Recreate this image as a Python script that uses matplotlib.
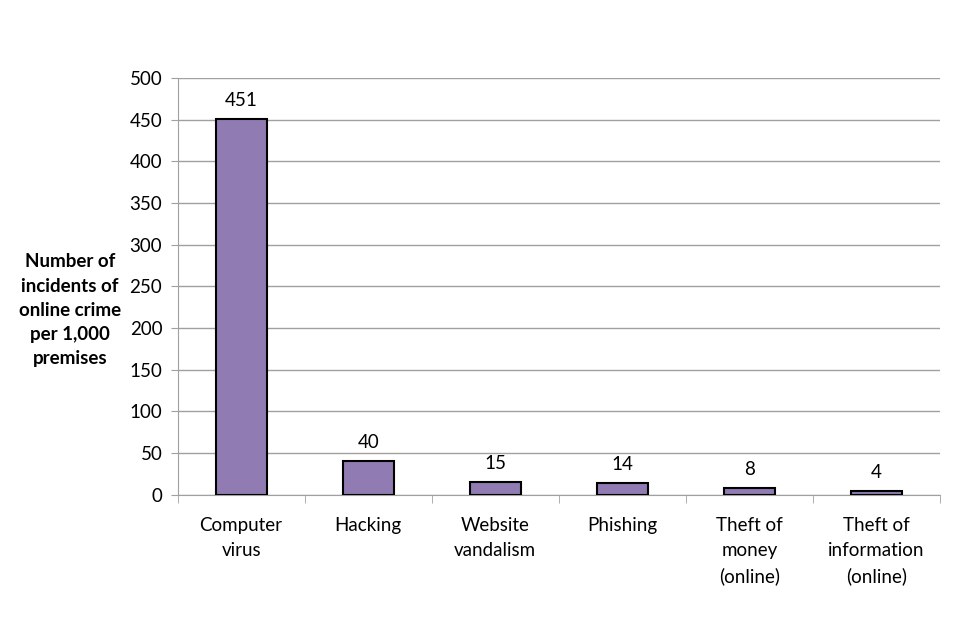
import matplotlib.pyplot as plt
import numpy as np

plt.rcParams['font.family'] = ['Lato', 'DejaVu Sans']

categories = ['Computer\nvirus', 'Hacking', 'Website\nvandalism', 'Phishing',
              'Theft of\nmoney\n(online)', 'Theft of\ninformation\n(online)']
values = [451, 40, 15, 14, 8, 4]
yticks = list(range(0, 501, 50))

grey = '#a0a0a0'
fs = 13.5

fig = plt.figure(figsize=(9.6, 6.4), dpi=100)
ax = fig.add_axes([0.185, 0.227, 0.794, 0.651])

x = np.arange(len(values))
ax.bar(x, values, width=0.4, color='#917bb3', edgecolor='black', linewidth=1.5, zorder=3)
for xi, v in zip(x, values):
    ax.text(xi, v + 12, str(v), ha='center', va='bottom', fontsize=fs)

ax.set_xlim(-0.5, len(values) - 0.5)
ax.set_ylim(0, 500)
ax.set_yticks(yticks)
ax.yaxis.grid(True, color=grey, linewidth=1, zorder=0)
ax.set_xticks(x)
ax.set_xticklabels(categories, fontsize=fs, linespacing=1.58)
ax.set_xticks(np.arange(-0.5, len(values)), minor=True)
ax.tick_params(axis='x', which='major', length=0, pad=16)
ax.tick_params(axis='x', which='minor', length=6, color=grey, direction='out')
ax.tick_params(axis='y', length=5, color=grey, labelsize=fs, pad=6)

for s in ['top', 'right']:
    ax.spines[s].set_visible(False)
for s in ['left', 'bottom']:
    ax.spines[s].set_color(grey)

fig.text(0.073, 0.515, 'Number of\nincidents of\nonline crime\nper 1,000\npremises',
         ha='center', va='center', fontsize=fs, fontweight='bold', linespacing=1.52)

fig.savefig('out.png', dpi=100)
